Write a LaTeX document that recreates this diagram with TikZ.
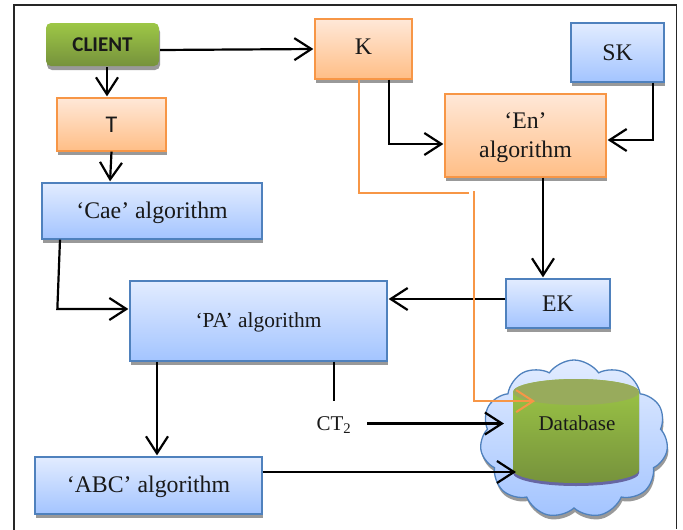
\documentclass[tikz,border=0pt]{standalone}
\usepackage{fontspec}
\setmainfont{Liberation Serif}
\newfontfamily\calibrifont{Carlito}
\usetikzlibrary{arrows.meta,shapes.geometric,shapes.symbols,shadows}

\definecolor{blueline}{HTML}{4F81BD}
\definecolor{bluetop}{HTML}{E2ECFF}
\definecolor{bluebot}{HTML}{A3C4FF}
\definecolor{orangeline}{HTML}{F79646}
\definecolor{orangetop}{HTML}{FFE8D8}
\definecolor{orangebot}{HTML}{FFBE86}
\definecolor{greentop}{HTML}{9DC746}
\definecolor{greenbot}{HTML}{76923C}
\definecolor{dbtopcolor}{HTML}{98AB5C}

\begin{document}
\begin{tikzpicture}[x=1pt,y=-1pt,line width=2.2pt,shorten >=1pt,>={Straight Barb[length=17pt,width=22pt]},
    boxshadow/.style={drop shadow={shadow xshift=1pt,shadow yshift=-4pt,fill=black!40,opacity=1}},
    bluebox/.style={draw=blueline,line width=1.3pt,top color=bluetop,bottom color=bluebot,boxshadow,inner sep=0pt,text=black!90,font=\fontsize{23.8}{27}\selectfont,align=center},
    orangebox/.style={draw=orangeline,line width=1.3pt,top color=orangetop,bottom color=orangebot,boxshadow,inner sep=0pt,text=black!90,font=\fontsize{23.8}{28.5}\selectfont,align=center},
    orangeline/.style={draw=orangeline,line width=2pt}]
    \useasboundingbox (0,0) rectangle (683,530);
    \draw[line width=1.5pt,black!85] (14,530) -- (14,5) -- (676.5,5) -- (676.5,530);

    \node[draw=none,rounded corners=5pt,top color=greentop,bottom color=greenbot,boxshadow,minimum width=113pt,minimum height=43pt,inner sep=0pt,font=\calibrifont\bfseries\fontsize{21}{24}\selectfont,text=black!90] (client) at (102.5,44.5) {CLIENT};
    \node[orangebox,minimum width=109pt,minimum height=53pt,font=\calibrifont\fontsize{24}{28}\selectfont] (t) at (111.5,124.5) {T};
    \node[bluebox,minimum width=220pt,minimum height=56pt,text height=19pt,text depth=5pt] (cae) at (152,211) {`Cae' algorithm};
    \node[orangebox,minimum width=97pt,minimum height=60pt] (k) at (363.5,49) {\raisebox{4pt}{K}};
    \node[bluebox,minimum width=93pt,minimum height=59pt] (sk) at (617.5,52.5) {SK};
    \node[orangebox,minimum width=161pt,minimum height=83pt] (en) at (525.5,135.5) {\rule{0pt}{20pt}`En'\\algorithm};
    \node[bluebox,minimum width=104pt,minimum height=49pt] (ek) at (558,303.5) {EK};
    \node[bluebox,minimum width=257pt,minimum height=80pt,font=\fontsize{21.4}{25}\selectfont,text height=17pt,text depth=5pt] (pa) at (258.5,321) {`PA' algorithm};
    \node[bluebox,minimum width=227pt,minimum height=57pt,text height=19pt,text depth=5pt] (abc) at (148.5,485.5) {`ABC' algorithm};

    \node[cloud,cloud puffs=11,cloud puff arc=110,aspect=1.2,draw=blueline,line width=1.3pt,top color=bluetop,bottom color=bluebot,boxshadow,minimum width=188pt,minimum height=158pt,inner sep=0pt] (cloud) at (574,439) {};
    \path[top color=greentop,bottom color=greenbot,drop shadow={shadow xshift=0pt,shadow yshift=-3pt,fill=blue!40!black!60,opacity=1}] (513,392) -- (513,470) arc[start angle=180,end angle=360,x radius=63pt,y radius=13pt] -- (639,392) arc[start angle=0,end angle=180,x radius=63pt,y radius=13pt] -- cycle;
    \node[ellipse,fill=dbtopcolor,minimum width=126pt,minimum height=26pt,inner sep=0pt] (dbtop) at (576,392) {};
    \node[font=\fontsize{21}{25}\selectfont,text=black!90,inner sep=0pt] (dblabel) at (577,423) {Database};
    \node[font=\fontsize{21}{25}\selectfont,text=black!90,inner sep=0pt] (ct) at (334,425) {CT\textsubscript{2}};
    \coordinate (dbwest) at (517,472);

    \draw[->] ([yshift=-5.5pt]client.east) -- (k.west);
    \draw[->] ([xshift=4.5pt]client.south) -- ([xshift=-4.5pt]t.north);
    \draw[->] (t.south) -- ([xshift=-42pt]cae.north);
    \draw[->] ([xshift=-92pt]cae.south) -- ([xshift=-72pt,yshift=12pt]pa.west) -- ([yshift=12pt]pa.west);
    \draw[->] ([xshift=25.5pt]k.south) |- ([yshift=-8.5pt]en.west);
    \draw[->] ([xshift=35.5pt]sk.south) |- ([yshift=-4.5pt]en.east);
    \draw[->] ([xshift=17.5pt]en.south) -- ([xshift=-15pt]ek.north);
    \draw[->] ([yshift=4.5pt]ek.west) -- ([yshift=22pt]pa.east);
    \draw[->] ([xshift=-101.5pt]pa.south) -- ([xshift=8.5pt]abc.north);
    \draw[line width=1.2pt,shorten >=14pt] ([xshift=75.5pt]pa.south) -- (ct.north);
    \draw[->] ([xshift=15pt,yshift=1.5pt]ct.east) -- ([xshift=24pt,yshift=1.5pt]cloud.west |- ct.east);
    \draw[->] ([yshift=13.5pt]abc.east) -- (dbwest);

    \coordinate (kbend) at (358.5,192.5);
    \coordinate (kend) at (469,192.5);
    \coordinate (dbstart) at (474,191);
    \draw[orangeline,shorten >=0pt] ([xshift=-5pt]k.south) -- (kbend) -- (kend);
    \draw[orangeline,->] (dbstart) |- ([xshift=-40pt,yshift=5pt]dbtop.south);
\end{tikzpicture}
\end{document}
